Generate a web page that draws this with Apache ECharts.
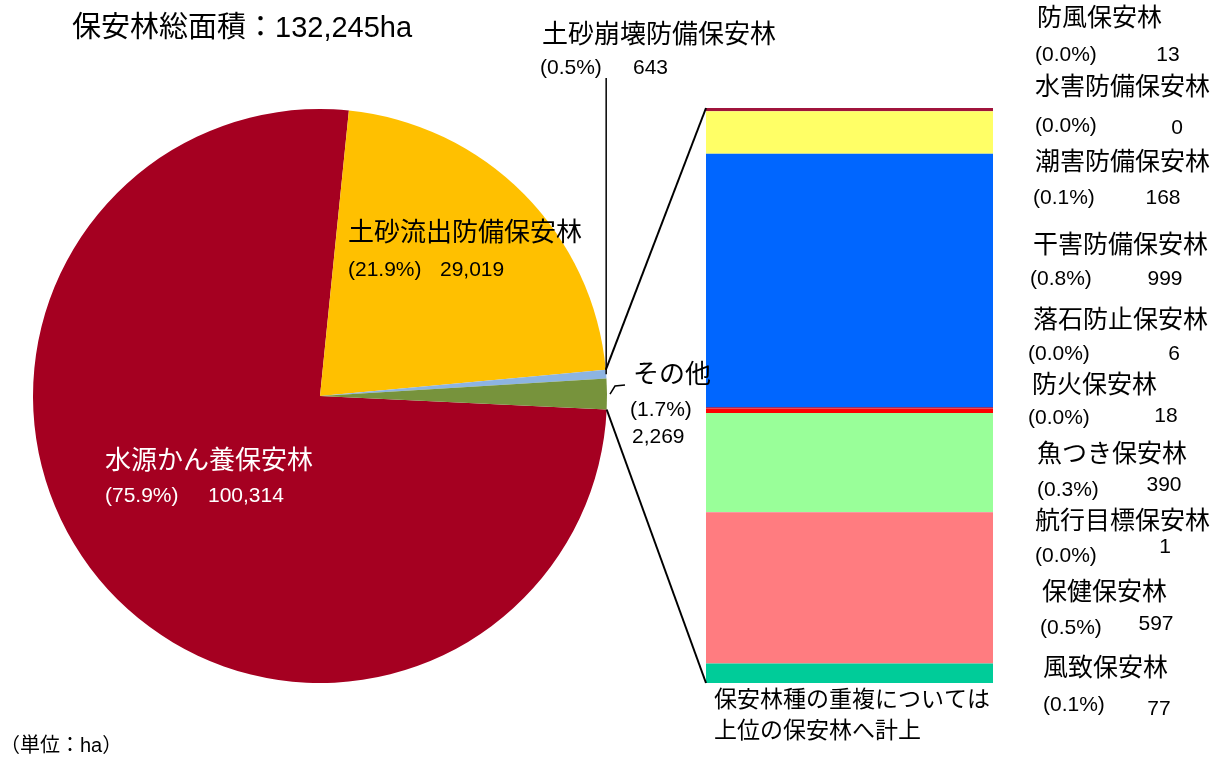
<!DOCTYPE html>
<html>
<head>
<meta charset="utf-8">
<title>保安林総面積</title>
<script src="https://cdn.jsdelivr.net/npm/echarts@6/dist/echarts.min.js"></script>
<style>
  html, body { margin: 0; padding: 0; background: #fff; }
  #main { width: 1224px; height: 760px; }
</style>
</head>
<body>
<div id="main"></div>
<script>
// 保安林の種類別面積 (ha)
const pieNames = ['水源かん養保安林', '土砂流出防備保安林', '土砂崩壊防備保安林', 'その他']
const pieValues = [100314, 29019, 643, 2269]
const pieColors = ['#A50021', '#FFC000', '#8DB4E2', '#77933C']

// その他の内訳 (上から順)
const otherNames = ['防風保安林', '水害防備保安林', '潮害防備保安林', '干害防備保安林', '落石防止保安林',
  '防火保安林', '魚つき保安林', '航行目標保安林', '保健保安林', '風致保安林']
const otherValues = [13, 0, 168, 999, 6, 18, 390, 1, 597, 77]
const otherColors = ['#A0143C', '#CC99FF', '#FFFF66', '#0066FF', '#993366',
  '#FF0000', '#99FF99', '#9999FF', '#FF7C80', '#00CC99']

const FONT = '"Liberation Sans", "Noto Sans CJK JP", sans-serif'
const total = pieValues.reduce((a, b) => a + b, 0)
const otherTotal = otherValues.reduce((a, b) => a + b, 0)
const pct = v => '(' + (v / total * 100).toFixed(1) + '%)'
const fmt = v => v.toLocaleString('en-US')

// pie / bar geometry
const cx = 320, cy = 396, R = 287
const startAngle = 357.3
const barBox = { left: 706, top: 108, width: 287, height: 575 }

// label layout: [nameX, nameY, pctX, pctY, valX, valY]
const pieLabelPos = [
  [105, 462, 105, 496, 208, 496],
  [348, 234, 348, 270, 440, 270],
  [542, 36, 540, 68, 633, 68],
  [633, 376, 630, 410, 632, 437]
]
const pieLabelColors = ['#fff', '#000', '#000', '#000']
const otherLabelPos = [
  [1037, 19, 1035, 55, 1168, 55],
  [1035, 88, 1035, 126, 1177, 128],
  [1035, 163, 1033, 198, 1163, 198],
  [1033, 246, 1030, 279, 1165, 279],
  [1033, 321, 1028, 354, 1174, 354],
  [1032, 386, 1028, 418, 1166, 416],
  [1037, 455, 1037, 490, 1164, 485],
  [1035, 522, 1035, 556, 1165, 547],
  [1042, 593, 1040, 628, 1156, 624],
  [1043, 669, 1043, 705, 1159, 709]
]

function txt (s, x, y, size, align, color) {
  return {
    type: 'text', x: x, y: y, z: 100, silent: true,
    style: { text: s, font: size + 'px ' + FONT, fill: color || '#000', align: align || 'left', verticalAlign: 'middle' }
  }
}

function piePoint (deg) {
  const a = deg * Math.PI / 180
  return [cx + R * Math.cos(a), cy - R * Math.sin(a)]
}

const chart = echarts.init(document.getElementById('main'))

const graphics = []
graphics.push(txt('保安林総面積：' + fmt(total) + 'ha', 72, 29, 29))
graphics.push(txt('（単位：ha）', 0, 746, 20))
graphics.push(txt('保安林種の重複については', 714, 701, 23))
graphics.push(txt('上位の保安林へ計上', 714, 732, 23))

pieNames.forEach((n, i) => {
  const p = pieLabelPos[i]
  const c = pieLabelColors[i]
  graphics.push(txt(n, p[0], p[1], 26, 'left', c))
  graphics.push(txt(pct(pieValues[i]), p[2], p[3], 21, 'left', c))
  graphics.push(txt(fmt(pieValues[i]), p[4], p[5], 21, 'left', c))
})
otherNames.forEach((n, i) => {
  const p = otherLabelPos[i]
  graphics.push(txt(n, p[0], p[1], 25))
  graphics.push(txt(pct(otherValues[i]), p[2], p[3], 21))
  graphics.push(txt(fmt(otherValues[i]), p[4], p[5], 21, 'center'))
})

// connector lines from the その他 part of the pie to the bar
const sumBefore = i => pieValues.slice(0, i).reduce((a, b) => a + b, 0)
const angCollapseStart = startAngle - 360 * sumBefore(2) / total
const angCollapseMid = startAngle - 360 * (sumBefore(2) + pieValues[2] / 2) / total
const angOtherEnd = startAngle - 360
const pTop = piePoint(angCollapseStart)
const pBot = piePoint(angOtherEnd)
const pCollapse = piePoint(angCollapseMid)
const pOther = piePoint(startAngle - 360 * (sumBefore(3) + pieValues[3] / 2) / total)
const lineStyle = { stroke: '#000', lineWidth: 2, fill: null }
graphics.push({ type: 'line', z: 100, silent: true, shape: { x1: pTop[0], y1: pTop[1], x2: barBox.left, y2: barBox.top }, style: lineStyle })
graphics.push({ type: 'line', z: 100, silent: true, shape: { x1: pBot[0], y1: pBot[1], x2: barBox.left, y2: barBox.top + barBox.height }, style: lineStyle })
graphics.push({ type: 'polyline', z: 100, silent: true, shape: { points: [[pCollapse[0], pCollapse[1]], [pCollapse[0], 78]] }, style: { stroke: '#000', lineWidth: 1.5, fill: null } })
graphics.push({ type: 'polyline', z: 100, silent: true, shape: { points: [[pOther[0] + 3, pOther[1]], [pOther[0] + 8, pOther[1] - 8], [pOther[0] + 18, pOther[1] - 9]] }, style: { stroke: '#000', lineWidth: 1.5, fill: null } })

const option = {
  animation: false,
  backgroundColor: '#fff',
  textStyle: { fontFamily: FONT },
  grid: { left: barBox.left, top: barBox.top, width: barBox.width, height: barBox.height, containLabel: false },
  xAxis: { type: 'category', data: [''], show: false },
  yAxis: { type: 'value', inverse: true, min: 0, max: otherTotal, show: false },
  series: [
    {
      type: 'pie',
      center: [cx, cy],
      radius: R,
      startAngle: startAngle,
      clockwise: true,
      label: { show: false },
      labelLine: { show: false },
      emphasis: { scale: false },
      itemStyle: { borderWidth: 0 },
      data: pieNames.map((n, i) => ({ name: n, value: pieValues[i], itemStyle: { color: pieColors[i] } }))
    }
  ].concat(otherNames.map((n, i) => ({
    type: 'bar',
    name: n,
    stack: 'other',
    barWidth: '100%',
    itemStyle: { color: otherColors[i] },
    data: [otherValues[i]]
  }))),
  graphic: graphics
}

chart.setOption(option)
</script>
</body>
</html>
